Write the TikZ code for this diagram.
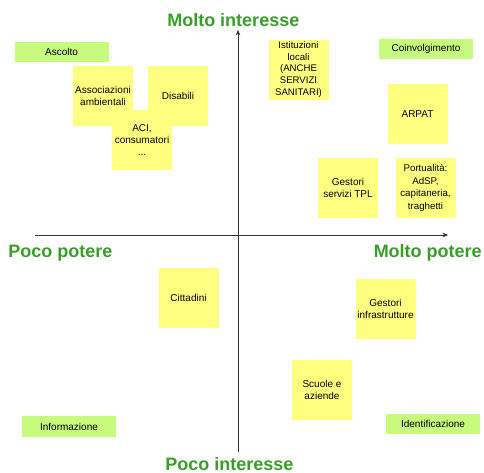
\documentclass[tikz,border=0pt]{standalone}
\usepackage{fontspec}
\setmainfont{Liberation Sans}
\usetikzlibrary{arrows.meta}
\definecolor{ttlgreen}{RGB}{56,158,40}
\definecolor{stickyyellow}{RGB}{255,255,128}
\definecolor{stickygreen}{RGB}{200,250,125}
\begin{document}
\begin{tikzpicture}[x=0.75pt,y=-0.75pt,
 ybox/.style={fill=stickyyellow, minimum width=45pt, minimum height=45pt, inner sep=0pt, align=center, font=\fontsize{7.5pt}{9pt}\selectfont},
 gbox/.style={fill=stickygreen, minimum width=70.5pt, minimum height=15pt, inner sep=0pt, font=\fontsize{7.5pt}{9pt}\selectfont},
 ttl/.style={text=ttlgreen, font=\bfseries\fontsize{13.5pt}{16pt}\selectfont, inner sep=0pt},
 axisline/.style={draw=black!80, line width=0.75pt, -{Stealth[length=4pt,width=3.5pt]}}]
\useasboundingbox (0,0) rectangle (484,472);
% axes
\coordinate (vbot) at (238,452);
\coordinate (vtop) at (238,30);
\coordinate (hl) at (35,235);
\coordinate (hr) at (448,235);
\draw[axisline] (vbot) -- (vtop);
\draw[axisline] (hl) -- (hr);
% titles
\node[ttl, anchor=base west] (ti) at (167,26) {Molto interesse};
\node[ttl, anchor=base west] (pi) at (165,470) {Poco interesse};
\node[ttl, anchor=base west] (pp) at (8,257.5) {Poco potere};
\node[ttl, anchor=base east] (mp) at (482,257.5) {Molto potere};
% green strategy boxes
\node[gbox] (asc) at (61.5,52) {Ascolto};
\node[gbox] (coi) at (426,49) {Coinvolgimento};
\node[gbox, minimum height=15.75pt] (inf) at (69,426.5) {Informazione};
\node[gbox] (ide) at (433,424) {Identificazione};
% yellow sticky notes
\node[ybox] (ass) at (103,95.5) {Associazioni\\ambientali};
\node[ybox] (dis) at (178,95.5) {Disabili};
\node[ybox] (aci) at (142,140) {ACI,\\consumatori\\...};
\node[ybox, font=\fontsize{7.2pt}{8.8pt}\selectfont] (ist) at (298.5,69.5) {Istituzioni\\locali\\(ANCHE\\SERVIZI\\SANITARI)};
\node[ybox] (arp) at (417.5,114) {ARPAT};
\node[ybox] (tpl) at (348,188) {Gestori\\servizi TPL};
\node[ybox, font=\fontsize{7.3pt}{9.6pt}\selectfont] (por) at (425.5,188) {Portualità:\\AdSP,\\capitaneria,\\traghetti};
\node[ybox] (cit) at (188.5,298) {Cittadini};
\node[ybox] (ges) at (385.5,308.5) {Gestori\\infrastrutture};
\node[ybox] (scu) at (322,389.5) {Scuole e\\aziende};
\end{tikzpicture}
\end{document}
